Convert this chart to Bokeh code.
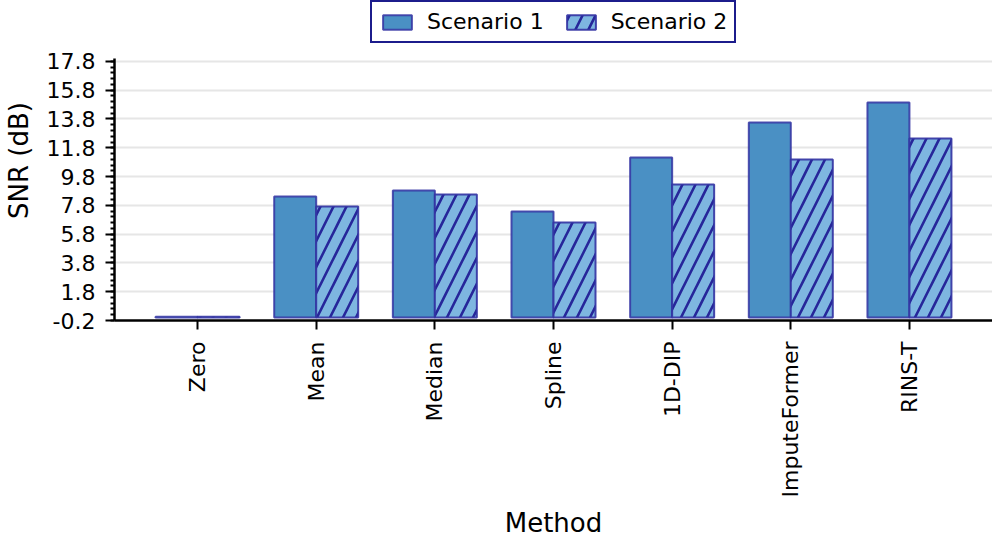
import math
from bokeh.plotting import figure
from bokeh.models import (FactorRange, Range1d, FixedTicker, PrintfTickFormatter,
                          Legend, LegendItem, ColumnDataSource)
from bokeh.transform import dodge
from bokeh.embed import file_html
from bokeh.resources import INLINE

methods = ["Zero", "Mean", "Median", "Spline", "1D-DIP", "ImputeFormer", "RINS-T"]
scenario1 = [0.06, 8.42, 8.83, 7.37, 11.13, 13.56, 14.95]
scenario2 = [0.06, 7.72, 8.56, 6.61, 9.25, 10.99, 12.45]
y_ticks = [-0.2, 1.8, 3.8, 5.8, 7.8, 9.8, 11.8, 13.8, 15.8, 17.8]
series_names = ["Scenario 1", "Scenario 2"]

FONT = "DejaVu Sans"
S1_FILL = "#4a90c4"
S2_FILL = "#7eb6e0"
EDGE = "#3232a2"
HATCH = "#26269a"

src = ColumnDataSource(data=dict(method=methods, s1=scenario1, s2=scenario2))

# frame extends above the axis top (18.0) to hold the legend
p = figure(frame_width=878, frame_height=320,
           x_range=FactorRange(factors=methods, range_padding=0.2,
                               range_padding_units="absolute"),
           y_range=Range1d(-0.2, 22.03),
           output_backend="svg", toolbar_location=None,
           min_border_left=105, min_border_right=0,
           min_border_top=0, min_border_bottom=0)

r1 = p.vbar(x=dodge("method", -0.177, range=p.x_range), top="s1", bottom=0,
            width=0.354, source=src, fill_color=S1_FILL, fill_alpha=1.0,
            line_color=EDGE, line_width=2, line_alpha=0.85)
r2 = p.vbar(x=dodge("method", 0.177, range=p.x_range), top="s2", bottom=0,
            width=0.354, source=src, fill_color=S2_FILL, fill_alpha=1.0,
            line_color=EDGE, line_width=2, line_alpha=0.9,
            hatch_pattern="/", hatch_color=HATCH, hatch_weight=2.6,
            hatch_scale=26)

minor = [round(y_ticks[0] + 0.4 * i, 2) for i in range(46)]
ticker = FixedTicker(ticks=y_ticks, minor_ticks=minor)
p.yaxis.ticker = ticker
p.yaxis.bounds = (-0.2, 18.0)
p.yaxis.formatter = PrintfTickFormatter(format="%.1f")
p.ygrid.ticker = ticker
p.ygrid.grid_line_color = "#e6e6e6"
p.ygrid.grid_line_width = 2
p.xgrid.grid_line_color = None
p.outline_line_color = None

for ax in (p.xaxis[0], p.yaxis[0]):
    ax.axis_line_width = 2.5
    ax.axis_line_color = "black"
    ax.major_tick_line_width = 2
    ax.major_tick_line_color = "black"
    ax.major_tick_in = 0
    ax.major_tick_out = 9
    ax.major_label_text_font = FONT
    ax.major_label_text_font_size = "22px"
    ax.major_label_text_color = "black"
    ax.axis_label_text_font = FONT
    ax.axis_label_text_font_size = "26px"
    ax.axis_label_text_font_style = "normal"
    ax.axis_label_text_color = "black"

p.yaxis.minor_tick_in = 0
p.yaxis.minor_tick_out = 4
p.yaxis.minor_tick_line_width = 2
p.yaxis.minor_tick_line_color = "black"
p.yaxis.major_label_standoff = 10
p.yaxis.axis_label = "SNR (dB)"
p.yaxis.axis_label_standoff = 10

p.xaxis.axis_label = "Method"
p.xaxis.major_label_orientation = math.pi / 2
p.xaxis.major_label_standoff = 12
p.xaxis.axis_label_standoff = 8

legend = Legend(items=[LegendItem(label=series_names[0], renderers=[r1]),
                       LegendItem(label=series_names[1], renderers=[r2])],
                orientation="horizontal", location=(256, 277),
                label_text_font=FONT, label_text_font_size="22px",
                label_text_color="black",
                glyph_width=36, glyph_height=18, label_standoff=12,
                spacing=19, padding=7, margin=0,
                border_line_color="#1c1c8c", border_line_width=2,
                border_line_alpha=1.0,
                background_fill_color="white", background_fill_alpha=1.0)
p.add_layout(legend, "center")

open("out.html", "w").write(file_html(p, INLINE))
